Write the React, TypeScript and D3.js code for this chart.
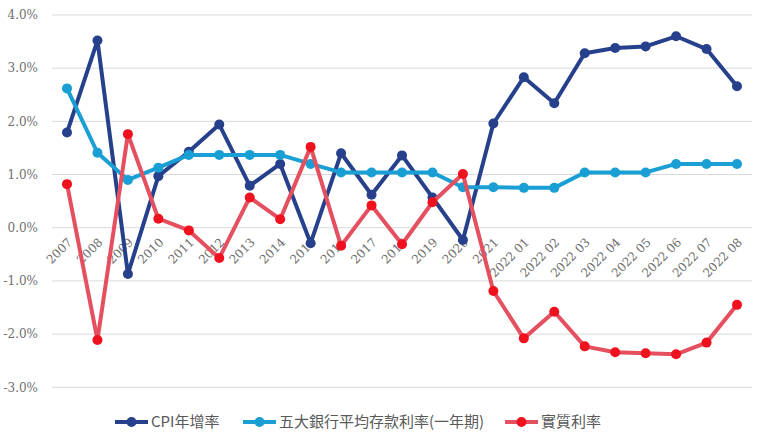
import * as d3 from "d3";
import React from "react";

const categories = [
  "2007", "2008", "2009", "2010", "2011", "2012", "2013", "2014", "2015", "2016",
  "2017", "2018", "2019", "2020", "2021", "2022 01", "2022 02", "2022 03", "2022 04",
  "2022 05", "2022 06", "2022 07", "2022 08",
];
const cpi = [1.79, 3.52, -0.87, 0.97, 1.43, 1.94, 0.79, 1.2, -0.29, 1.4, 0.62, 1.36, 0.57, -0.23, 1.96, 2.83, 2.34, 3.28, 3.38, 3.41, 3.6, 3.36, 2.66];
const deposit = [2.62, 1.41, 0.9, 1.13, 1.37, 1.37, 1.37, 1.37, 1.2, 1.04, 1.04, 1.04, 1.04, 0.76, 0.76, 0.75, 0.75, 1.04, 1.04, 1.04, 1.2, 1.2, 1.2];
const real = [0.82, -2.11, 1.76, 0.17, -0.05, -0.57, 0.57, 0.16, 1.52, -0.34, 0.42, -0.31, 0.48, 1.01, -1.19, -2.08, -1.58, -2.23, -2.34, -2.36, -2.38, -2.16, -1.45];
const yTicks = [-3, -2, -1, 0, 1, 2, 3, 4];

const series = [
  { name: "CPI年增率", values: cpi, line: "#26408B", dot: "#26408B" },
  { name: "五大銀行平均存款利率(一年期)", values: deposit, line: "#1A9FD5", dot: "#1A9FD5" },
  { name: "實質利率", values: real, line: "#E4505F", dot: "#F0111E" },
];

export default function App() {
  const W = 768, H = 443;
  const x = d3.scalePoint<string>().domain(categories).range([67, 737]);
  const y = d3.scaleLinear().domain([-3, 4]).range([387.3, 15]);
  const line = d3.line<number>().x((_, i) => x(categories[i])!).y(d => y(d));
  const legendX = [115, 243, 505];
  const serif = "'DejaVu Serif', serif";

  return (
    <div style={{ position: "fixed", left: 0, top: 0 }}>
      <svg width={W} height={H} style={{ display: "block", background: "#fff" }}>
        {yTicks.map(t => (
          <g key={t}>
            <line x1={52} x2={752} y1={y(t)} y2={y(t)} stroke="#d9d9d9" strokeWidth={1} />
            <text x={38} y={y(t)} dy="0.35em" textAnchor="end" fontFamily={serif} fontSize={12} fill="#707070">
              {t.toFixed(1)}%
            </text>
          </g>
        ))}
        {categories.map(c => (
          <text key={c} transform={`translate(${x(c)! + 6},${243}) rotate(-45)`} textAnchor="end"
            fontFamily={serif} fontSize={12} fill="#707070">
            {c}
          </text>
        ))}
        {series.map(s => (
          <g key={s.name}>
            <path d={line(s.values)!} fill="none" stroke={s.line} strokeWidth={4} strokeLinejoin="round" />
            {s.values.map((v, i) => (
              <circle key={i} cx={x(categories[i])} cy={y(v)} r={5} fill={s.dot} />
            ))}
          </g>
        ))}
        {series.map((s, i) => (
          <g key={s.name} transform={`translate(${legendX[i]},422)`}>
            <line x1={0} x2={33} y1={0} y2={0} stroke={s.line} strokeWidth={4} />
            <circle cx={16.5} cy={0} r={5} fill={s.dot} />
            <text x={36} y={0} dy="0.36em" fontFamily="'Noto Sans CJK TC', sans-serif" fontSize={15} fill="#595959">
              {s.name}
            </text>
          </g>
        ))}
      </svg>
    </div>
  );
}
